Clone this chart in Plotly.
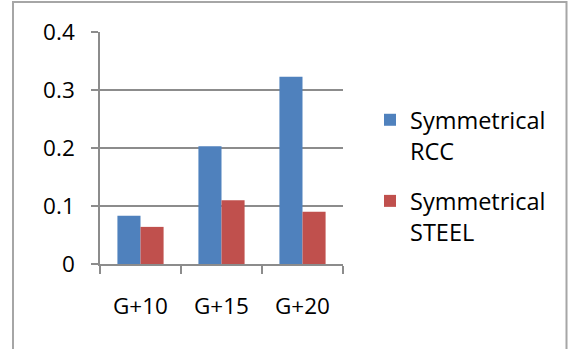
import plotly.graph_objects as go

categories = ["G+10", "G+15", "G+20"]
rcc_values = [0.083, 0.203, 0.323]
steel_values = [0.064, 0.110, 0.090]
series_names = ["Symmetrical<br>RCC", "Symmetrical<br>STEEL"]
y_ticks = [0, 0.1, 0.2, 0.3, 0.4]
y_tick_labels = ["0", "0.1", "0.2", "0.3", "0.4"]

W, H = 569, 349
ML, MR, MT, MB = 100, 226, 32, 85
PW, PH = W - ML - MR, H - MT - MB

def px_x(p):
    return (p - ML) / PW

def px_y(p):
    return (H - MB - p) / PH

FONT = "Open Sans"
GRAY = "#8c8c8c"

fig = go.Figure()
fig.add_trace(go.Bar(x=categories, y=rcc_values, name=series_names[0],
                     marker=dict(color="#4F81BD", line=dict(width=0)), legendgroup="a"))
fig.add_trace(go.Bar(x=categories, y=steel_values, name=series_names[1],
                     marker=dict(color="#C0504D", line=dict(width=0)), legendgroup="b"))

fig.update_layout(
    width=W, height=H,
    margin=dict(l=ML, r=MR, t=MT, b=MB, pad=0),
    paper_bgcolor="white", plot_bgcolor="white",
    font=dict(family=FONT, size=22.5, color="black"),
    barmode="group", bargap=0.43, bargroupgap=0,
    legend=dict(x=px_x(370), y=px_y(98), xanchor="left", yanchor="top",
                valign="top", tracegroupgap=17, font=dict(size=23.5),
                bgcolor="rgba(0,0,0,0)"),
    xaxis=dict(type="category", showline=True, linecolor=GRAY, linewidth=1.5,
               ticks="outside", tickson="boundaries", ticklen=8, tickcolor=GRAY,
               tickwidth=1.5, showgrid=False, ticklabelstandoff=21),
    yaxis=dict(range=[0, 0.4], tickvals=y_ticks, ticktext=y_tick_labels,
               showline=True, linecolor=GRAY, linewidth=1.5,
               ticks="outside", ticklen=7, tickcolor=GRAY, tickwidth=1.5,
               showgrid=True, gridcolor=GRAY, gridwidth=1.5, zeroline=False,
               ticklabelstandoff=12),
    shapes=[dict(type="rect", xref="paper", yref="paper",
                 x0=px_x(13), x1=px_x(566.5), y0=px_y(2), y1=px_y(370),
                 line=dict(color="#a6a6a6", width=2), layer="below")],
)

fig.write_html("out.html")
